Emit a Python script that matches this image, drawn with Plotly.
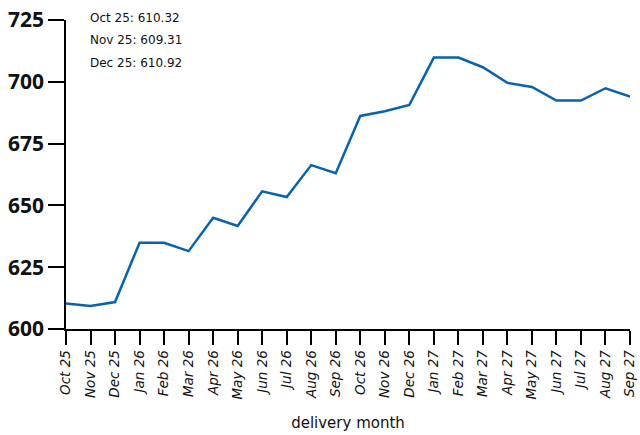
import plotly.graph_objects as go

months = ["Oct 25", "Nov 25", "Dec 25", "Jan 26", "Feb 26", "Mar 26", "Apr 26", "May 26",
          "Jun 26", "Jul 26", "Aug 26", "Sep 26", "Oct 26", "Nov 26", "Dec 26", "Jan 27",
          "Feb 27", "Mar 27", "Apr 27", "May 27", "Jun 27", "Jul 27", "Aug 27", "Sep 27"]
prices = [610.32, 609.31, 610.92, 634.9, 634.9, 631.5, 645.0, 641.7,
          655.7, 653.4, 666.3, 663.0, 686.2, 688.1, 690.6, 709.8,
          709.8, 705.9, 699.6, 697.9, 692.4, 692.4, 697.4, 694.0]
y_ticks = [600, 625, 650, 675, 700, 725]

fig = go.Figure()
fig.add_trace(go.Scatter(x=list(range(len(months))), y=prices, mode="lines",
                         line=dict(color="#0862b0", width=2.5), hoverinfo="skip"))

notes = [f"{months[i]}: {prices[i]:.2f}" for i in range(3)]
for i, t in enumerate(notes):
    fig.add_annotation(text=t, xref="paper", yref="paper", x=0.039, y=1.007 - i * 0.073,
                       xanchor="left", yanchor="middle", showarrow=False,
                       font=dict(family="DejaVu Sans", size=12, color="#111"))

fig.update_layout(
    width=640, height=435,
    margin=dict(l=66, r=10, t=20, b=106, autoexpand=False),
    plot_bgcolor="white", paper_bgcolor="white",
    showlegend=False,
    font=dict(family="DejaVu Sans", color="#111"),
)
fig.update_xaxes(
    tickmode="array", tickvals=list(range(len(months))), ticktext=months,
    tickangle=-90, tickfont=dict(family="DejaVu Sans", size=13.5, style="italic"),
    range=[0, len(months) - 1], showgrid=False, zeroline=False,
    showline=True, linecolor="black", linewidth=1.5,
    ticks="outside", ticklen=14, tickwidth=1.5, tickcolor="black",
    automargin=False, ticklabeloverflow="allow",
    title=dict(text="delivery month", font=dict(family="DejaVu Sans", size=15), standoff=19),
)
fig.update_yaxes(
    tickmode="array", tickvals=y_ticks, ticktext=[str(v) for v in y_ticks],
    tickfont=dict(family="Open Sans", size=21, weight="bold"),
    range=[600, 725], showgrid=False, zeroline=False,
    showline=True, linecolor="black", linewidth=1.5,
    ticks="outside", ticklen=16, tickwidth=1.5, tickcolor="black",
    automargin=False, ticklabeloverflow="allow",
)
fig.write_html("out.html", config={"displayModeBar": False},
               post_script="document.body.style.margin='0';document.body.style.overflow='hidden';")
